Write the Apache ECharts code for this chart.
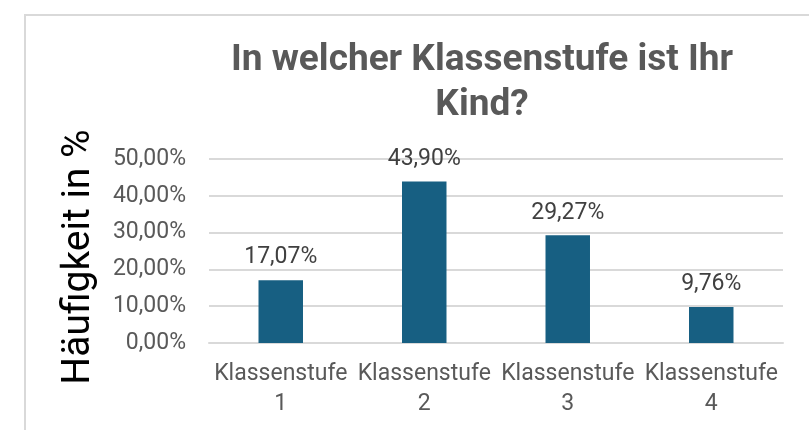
<!DOCTYPE html>
<html>
<head>
<meta charset="utf-8">
<script src="https://cdn.jsdelivr.net/npm/echarts@6/dist/echarts.min.js"></script>
<style>
  html, body { margin: 0; padding: 0; background: #fff; }
  #chart { width: 809px; height: 430px; }
</style>
</head>
<body>
<div id="chart"></div>
<script>
  // Werte aus dem Diagramm
  const categories = ['Klassenstufe\n1', 'Klassenstufe\n2', 'Klassenstufe\n3', 'Klassenstufe\n4']
  const shares = [17.07, 43.90, 29.27, 9.76]
  const yTicks = [0, 10, 20, 30, 40, 50]

  const fmt = v => v.toFixed(2).replace('.', ',') + '%'

  const chart = echarts.init(document.getElementById('chart'))
  chart.setOption({
    animation: false,
    textStyle: { fontFamily: 'Roboto' },
    title: {
      text: 'In welcher Klassenstufe ist Ihr\nKind?',
      left: 477,
      top: 33,
      textAlign: 'center',
      textStyle: {
        fontSize: 37,
        fontWeight: 'bold',
        color: '#595959',
        lineHeight: 45,
        fontFamily: 'Roboto'
      }
    },
    // Rahmen des Diagrammbereichs (rechts und unten abgeschnitten)
    graphic: [{
      type: 'rect',
      shape: { x: 25, y: 15, width: 820, height: 440 },
      style: { fill: 'none', stroke: '#d9d9d9', lineWidth: 2 },
      silent: true
    }],
    grid: {
      left: 209,
      right: 26,
      top: 159,
      bottom: 87
    },
    xAxis: {
      type: 'category',
      data: categories,
      axisLine: { show: true, lineStyle: { color: '#d9d9d9', width: 2 } },
      axisTick: { show: false },
      axisLabel: {
        color: '#595959',
        fontSize: 23,
        lineHeight: 30,
        margin: 16,
        interval: 0
      }
    },
    yAxis: {
      type: 'value',
      min: yTicks[0],
      max: yTicks[yTicks.length - 1],
      interval: 10,
      name: 'Häufigkeit in %',
      nameLocation: 'middle',
      nameGap: 110,
      nameTextStyle: { fontSize: 39, color: '#000', fontFamily: 'Roboto', padding: [0, 12, 0, 0] },
      axisLine: { show: false },
      axisTick: { show: false },
      axisLabel: {
        color: '#595959',
        fontSize: 23,
        margin: 23,
        formatter: v => fmt(v)
      },
      splitLine: { lineStyle: { color: '#d9d9d9', width: 2 } }
    },
    series: [{
      type: 'bar',
      data: shares,
      barWidth: '31%',
      itemStyle: { color: '#175f82' },
      label: {
        show: true,
        position: 'top',
        distance: 11,
        color: '#404040',
        fontSize: 23,
        formatter: p => fmt(p.value)
      }
    }]
  })
</script>
</body>
</html>
